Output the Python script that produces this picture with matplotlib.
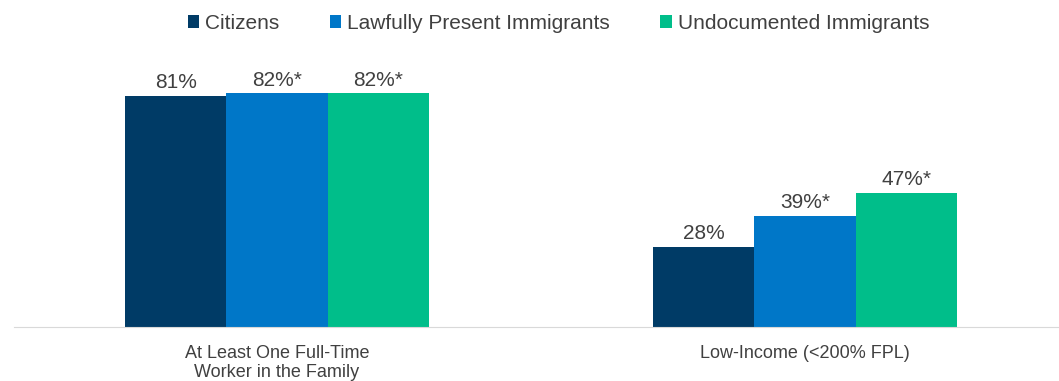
import matplotlib.pyplot as plt
import numpy as np

plt.rcParams['font.family'] = ['Liberation Sans Narrow', 'Liberation Sans', 'DejaVu Sans']

categories = ["At Least One Full-Time\nWorker in the Family", "Low-Income (<200% FPL)"]
series = ["Citizens", "Lawfully Present Immigrants", "Undocumented Immigrants"]
values = {
    "Citizens": [81, 28],
    "Lawfully Present Immigrants": [82, 39],
    "Undocumented Immigrants": [82, 47],
}
labels = {
    "Citizens": ["81%", "28%"],
    "Lawfully Present Immigrants": ["82%*", "39%*"],
    "Undocumented Immigrants": ["82%*", "47%*"],
}
colors = ["#003B66", "#0077C8", "#00BE8A"]

fig = plt.figure(figsize=(10.59, 3.81), dpi=100)
ax = fig.add_axes([14 / 1059, 54 / 381, 1045 / 1059, 285 / 381])

x = np.arange(len(categories))
w = 0.192
for i, s in enumerate(series):
    pos = x + (i - 1) * w
    bars = ax.bar(pos, values[s], w, color=colors[i], label=s)
    for b, t in zip(bars, labels[s]):
        ax.text(b.get_x() + b.get_width() / 2, b.get_height() + 1.3, t,
                ha='center', va='bottom', fontsize=15, color='#404040')

ax.set_xlim(-0.498, 1.481)
ax.set_ylim(0, 100)
ax.set_yticks([])
ax.set_xticks(x)
ax.set_xticklabels(categories, fontsize=13, color='#404040', linespacing=1.15)
ax.tick_params(axis='x', length=0, pad=13)
for sp in ['top', 'right', 'left']:
    ax.spines[sp].set_visible(False)
ax.spines['bottom'].set_color('#D9D9D9')

ax.legend(loc='upper center', bbox_to_anchor=(0.521, 1.165), ncol=3, frameon=False,
          fontsize=15, handlelength=0.55, handleheight=0.55, handletextpad=0.3,
          columnspacing=2.4, labelcolor='#404040')

fig.savefig('out.png', dpi=100)
